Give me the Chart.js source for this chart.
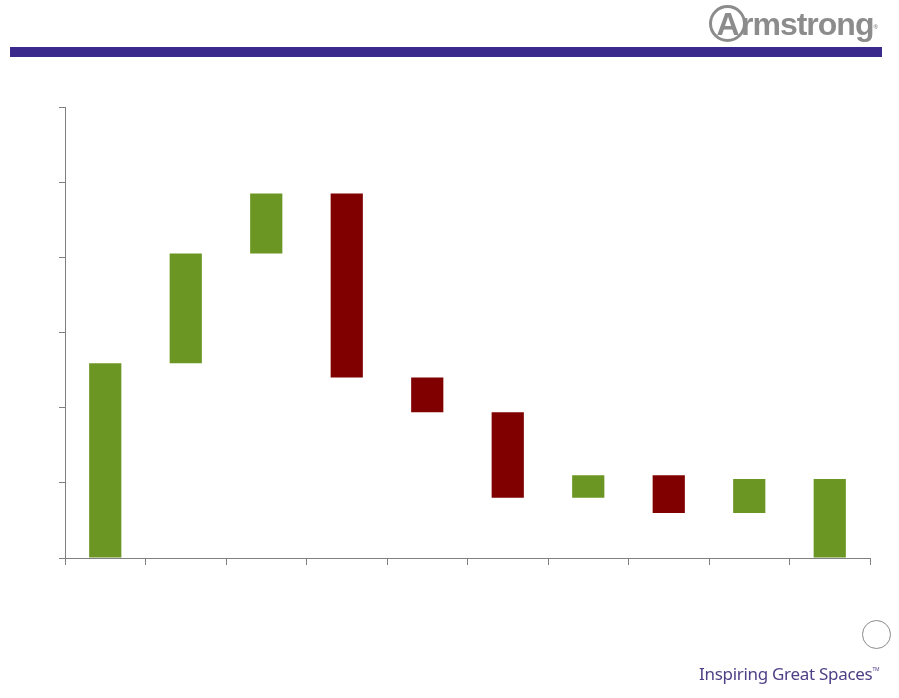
<!DOCTYPE html>
<html>
<head>
<meta charset="utf-8">
<script src="https://cdn.jsdelivr.net/npm/chart.js@4"></script>
<style>
  body { margin: 0; background: #fff; width: 899px; height: 698px; overflow: hidden; position: relative; }
  #wrap { position: absolute; left: 0; top: 0; width: 899px; height: 698px; }
  .logo { position: absolute; left: 709px; top: 5px; font-family: "Liberation Sans", Arial, sans-serif; font-weight: bold; font-size: 32px; color: #8c8c8c; letter-spacing: -1px; line-height: 34px; }
  .logo .a { display: inline-block; width: 31px; height: 31px; border: 3px solid #8c8c8c; border-radius: 50%; text-align: center; line-height: 32px; margin-right: -5px; }
  .logo sup { font-size: 6px; vertical-align: top; position: relative; top: 5px; }
  .bar { position: absolute; left: 10px; top: 47px; width: 872px; height: 10px; background: #3b2a8c; }
  .circle { position: absolute; left: 862px; top: 620px; width: 27px; height: 27px; border: 1px solid #8a8a8a; border-radius: 50%; }
  .tag { position: absolute; left: 699px; top: 662px; font-family: "Noto Sans", sans-serif; font-size: 17px; color: #4f3f86; letter-spacing: -0.3px; }
  .tag sup { font-size: 5px; vertical-align: top; position: relative; top: 4px; }
</style>
</head>
<body>
<div id="wrap"><canvas id="waterfall" width="899" height="698"></canvas></div>
<div class="logo"><span class="a">A</span>rmstrong<sup>®</sup></div>
<div class="bar"></div>
<div class="circle"></div>
<div class="tag">Inspiring Great Spaces<sup>TM</sup></div>
<script>
// steps of the bridge (no labels are printed on the slide)
const steps = ["1", "2", "3", "4", "5", "6", "7", "8", "9", "10"];

// floating bar from start to end
const barStart = [0, 2.59, 4.05, 4.85, 2.40, 1.94, 0.80, 1.10, 0.60, 0];
const barEnd   = [2.59, 4.05, 4.85, 2.40, 1.94, 0.80, 1.10, 0.60, 1.05, 1.05];

const yTicks = [0, 1, 2, 3, 4, 5, 6];

const green = "#6b9623";
const red = "#800000";
const axisGray = "#808080";

const floating = steps.map((s, i) => [barStart[i], barEnd[i]]);
const colors = steps.map((s, i) => barEnd[i] < barStart[i] ? red : green);

const waterfall = new Chart(document.getElementById("waterfall"), {
    type: "bar",
    data: {
        labels: steps,
        datasets: [
            {
                data: floating,
                backgroundColor: colors,
                borderWidth: 0,
                barPercentage: 0.4,
                categoryPercentage: 1.0,
            }
        ]
    },
    options: {
        responsive: false,
        animation: false,
        layout: { padding: { left: 59, top: 107, right: 29, bottom: 133 } },
        plugins: { legend: { display: false }, tooltip: { enabled: false } },
        scales: {
            x: {
                ticks: { display: false },
                grid: { drawOnChartArea: false, drawTicks: true, tickLength: 7, color: axisGray },
                border: { color: axisGray, width: 1 }
            },
            y: {
                min: yTicks[0],
                max: yTicks[yTicks.length - 1],
                ticks: { display: false, stepSize: 1 },
                grid: { drawOnChartArea: false, drawTicks: true, tickLength: 6, color: axisGray },
                border: { color: axisGray, width: 1 }
            }
        }
    }
});
</script>
</body>
</html>
